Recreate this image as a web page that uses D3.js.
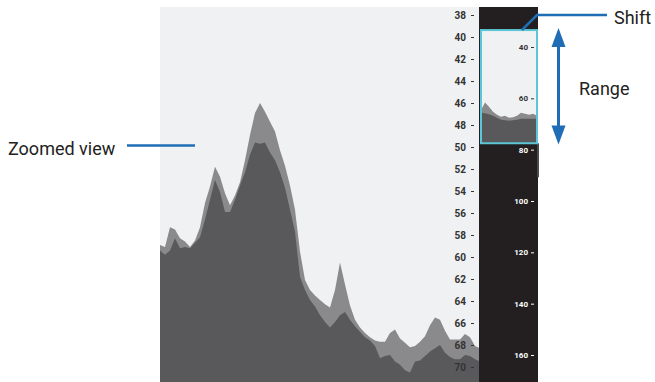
<!DOCTYPE html>
<html>
<head>
<meta charset="utf-8">
<script src="https://cdn.jsdelivr.net/npm/d3@7"></script>
<style>
  html, body { margin: 0; padding: 0; background: #ffffff; }
  svg { display: block; font-family: Roboto, "Noto Sans", sans-serif; }
</style>
</head>
<body>
<svg id="chart" width="655" height="382"></svg>
<script>
// ---------- data ----------
// main (zoomed) view: sample index along track, depth of upper (light) and lower (dark) layers
const upperDepth = [58.9,59.1,57.3,57.5,58.3,58.6,59.1,58.5,57.3,55.1,53.6,51.8,52.7,54.2,55.3,54.4,53.2,51.2,48.9,46.9,
  46.0,46.8,47.7,48.6,50.3,51.7,53.5,55.7,59.5,62.1,63.0,63.5,63.9,64.3,64.6,63.0,60.5,62.5,64.4,65.7,
  66.4,66.9,67.3,67.6,67.7,67.7,66.9,66.6,67.4,67.8,68.2,68.1,67.7,67.2,66.2,65.5,65.7,66.7,67.5,67.5,
  67.5,67.0,67.3,68.1,68.3];
const lowerDepth = [59.4,59.8,59.4,58.3,59.2,59.1,59.2,58.7,58.2,56.6,54.8,53.0,54.1,55.9,55.9,54.8,53.5,52.3,50.7,49.6,
  49.7,49.6,50.5,51.2,52.3,53.7,55.7,57.7,61.8,63.0,63.9,64.5,65.3,65.9,66.4,65.9,65.3,65.0,65.7,66.3,
  66.8,67.3,67.6,68.1,69.2,69.0,68.9,69.5,69.8,70.3,70.5,69.5,69.4,69.0,68.6,68.3,68.0,68.7,69.1,69.3,
  69.3,68.9,69.0,69.3,69.5];
const mainTicks = [38,40,42,44,46,48,50,52,54,56,58,60,62,64,66,68,70];

// overview panel: coarser profile and the full depth range
const ovUpper = [64.5,61.6,63.3,65.2,66.4,67.2,66.8,67.6,67.4,66.8,65.6,66.0,66.4,66.0,66.8];
const ovLower = [65.6,65.8,66.2,66.8,67.6,68.3,68.5,68.7,68.5,68.3,68.0,68.0,68.0,68.0,68.0];
const ovTicks = [40,60,80,100,120,140,160];
const brushRange = [33.4, 77.5];

const labels = { zoom: "Zoomed view", shift: "Shift", range: "Range" };

// ---------- layout ----------
const svg = d3.select("#chart");
const main = { x0: 160, x1: 479, top: 7, bottom: 382 };
const ov = { x0: 479, x1: 538, top: 7, bottom: 382 };

const x = d3.scaleLinear().domain([0, upperDepth.length - 1]).range([main.x0, main.x1 + 1]);
const y = d3.scaleLinear().domain([38, 70]).range([15, 367]);

const ovY = d3.scaleLinear().domain([40, 160]).range([47, 355]);
const bTop = ovY(brushRange[0]), bBot = ovY(brushRange[1]);
const ovX = d3.scaleLinear().domain([0, ovUpper.length - 1]).range([481, 537]);

const defs = svg.append("defs");
defs.append("clipPath").attr("id", "mainClip").append("rect")
  .attr("x", main.x0).attr("y", main.top).attr("width", main.x1 - main.x0).attr("height", main.bottom - main.top);
defs.append("clipPath").attr("id", "brushClip").append("rect")
  .attr("x", 481).attr("y", bTop).attr("width", 56).attr("height", bBot - bTop);

// main panel background
svg.append("rect").attr("x", main.x0).attr("y", main.top)
  .attr("width", main.x1 - main.x0).attr("height", main.bottom - main.top).attr("fill", "#f0f1f3");

const gMain = svg.append("g").attr("clip-path", "url(#mainClip)");
const areaMain = (arr) => d3.area().x((d, i) => x(i)).y0(main.bottom).y1(d => y(d))(arr);
gMain.append("path").attr("d", areaMain(upperDepth)).attr("fill", "#8a8a8c");
gMain.append("path").attr("d", areaMain(lowerDepth)).attr("fill", "#59595b");

// main axis
const axMain = svg.append("g").attr("transform", `translate(474,0)`)
  .call(d3.axisLeft(y).tickValues(mainTicks).tickSize(3).tickPadding(5).tickFormat(d3.format("d")));
axMain.select(".domain").remove();
axMain.selectAll("line").attr("stroke", "#333").attr("stroke-width", 1);
axMain.selectAll("text").attr("fill", "#333").style("font-size", "10px").style("font-weight", "700")
  .style("font-family", "Roboto, sans-serif");

// overview panel
svg.append("rect").attr("x", ov.x0).attr("y", ov.top).attr("width", ov.x1 - ov.x0)
  .attr("height", ov.bottom - ov.top).attr("fill", "#231f20");
svg.append("rect").attr("x", 537).attr("y", bBot).attr("width", 2).attr("height", 34).attr("fill", "#4a4a4a");

const gOv = svg.append("g").attr("clip-path", "url(#brushClip)");
gOv.append("rect").attr("x", 481).attr("y", bTop).attr("width", 56).attr("height", bBot - bTop).attr("fill", "#f0f1f3");
const areaOv = (arr) => d3.area().x((d, i) => ovX(i)).y0(bBot).y1(d => ovY(d))(arr);
gOv.append("path").attr("d", areaOv(ovUpper)).attr("fill", "#8a8a8c");
gOv.append("path").attr("d", areaOv(ovLower)).attr("fill", "#59595b");

const axOv = svg.append("g").attr("transform", `translate(534,0)`)
  .call(d3.axisLeft(ovY).tickValues(ovTicks).tickSize(3).tickPadding(3).tickFormat(d3.format("d")));
axOv.select(".domain").remove();
axOv.selectAll(".tick").each(function(d) {
  const inside = ovY(d) > bTop && ovY(d) < bBot;
  const c = inside ? "#333333" : "#ffffff";
  d3.select(this).select("line").attr("stroke", c).style("stroke", c);
  d3.select(this).select("text").attr("fill", c).style("fill", c);
});
axOv.selectAll("text").style("font-size", "8px").style("font-weight", "700").style("font-family", "Roboto, sans-serif");

// brush outline
svg.append("rect").attr("x", 481).attr("y", bTop).attr("width", 56).attr("height", bBot - bTop)
  .attr("fill", "none").attr("stroke", "#5cc6d6").attr("stroke-width", 2);

// ---------- annotations ----------
const blue = "#1f6db4";
svg.append("line").attr("x1", 127).attr("x2", 195).attr("y1", 145.5).attr("y2", 145.5)
  .attr("stroke", blue).attr("stroke-width", 2.5);
svg.append("text").attr("x", 8).attr("y", 154.5).text(labels.zoom)
  .attr("fill", "#222").style("font-size", "18px");

svg.append("path").attr("d", "M607,15 L537,15 L522,30").attr("fill", "none")
  .attr("stroke", blue).attr("stroke-width", 2.5);
svg.append("text").attr("x", 614).attr("y", 24).text(labels.shift)
  .attr("fill", "#222").style("font-size", "18px");

// double arrow
svg.append("line").attr("x1", 558.5).attr("x2", 558.5).attr("y1", 44).attr("y2", 128)
  .attr("stroke", blue).attr("stroke-width", 3);
svg.append("path").attr("d", "M558.5,28 L551.5,47 L565.5,47 Z").attr("fill", blue);
svg.append("path").attr("d", "M558.5,144.5 L551.5,125.5 L565.5,125.5 Z").attr("fill", blue);
svg.append("text").attr("x", 579).attr("y", 95).text(labels.range)
  .attr("fill", "#222").style("font-size", "18px");
</script>
</body>
</html>
